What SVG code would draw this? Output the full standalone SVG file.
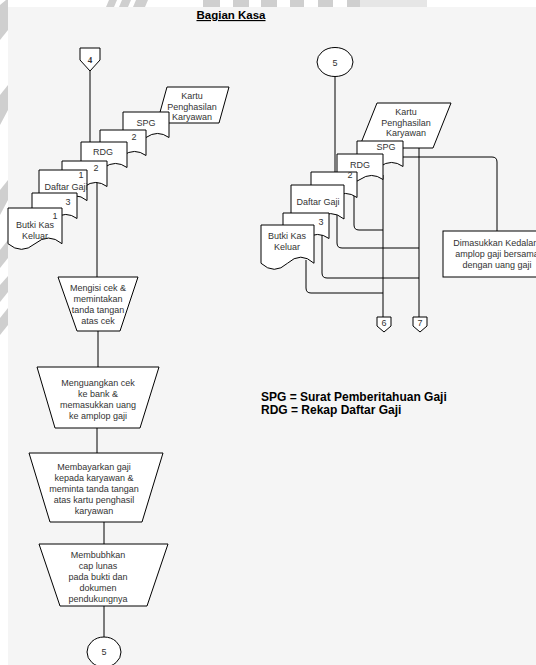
<svg xmlns="http://www.w3.org/2000/svg" width="536" height="665" viewBox="0 0 536 665">
<style>
.sh{fill:#fff;stroke:#000;stroke-width:1}
.ln{fill:none;stroke:#000;stroke-width:1}
.t{font-family:"Liberation Sans",Arial,sans-serif;font-size:9px;fill:#333;text-anchor:middle}
.wm{fill:#cfcfcf}
.lg{font-family:"Liberation Sans",Arial,sans-serif;font-size:12px;font-weight:bold;fill:#000}
</style>
<rect x="0" y="0" width="536" height="665" fill="#fff"/>
<rect x="8" y="7" width="528" height="658" fill="#f5f5f5"/>
<g id="watermark">
<polygon class="wm" points="109,0 117,0 114,7 106,7"/>
<polygon class="wm" points="122,0 131,0 128,7 119,7"/>
<polygon class="wm" points="136,0 148,0 145,7 133,7"/>
<rect class="wm" x="203" y="0" width="17" height="7"/>
<rect class="wm" x="233" y="0" width="16" height="7"/>
<rect class="wm" x="261" y="0" width="16" height="7"/>
<rect class="wm" x="290" y="0" width="14" height="7"/>
<rect class="wm" x="318" y="0" width="15" height="7"/>
<rect class="wm" x="347" y="0" width="13" height="7"/>
<rect x="360" y="0" width="67" height="7" fill="#e6e6e6"/>
<polygon class="wm" points="0,5 6,0 8,0 8,30 0,40"/>
<polygon class="wm" points="0,95 8,85 8,110 0,125"/>
<polygon class="wm" points="0,190 8,180 8,200 0,215"/>
<polygon class="wm" points="0,250 8,240 8,258 0,268"/>
<polygon class="wm" points="0,285 8,276 8,292 0,302"/>
<polygon class="wm" points="0,318 8,308 8,325 0,335"/>
</g>
<text x="231" y="19" font-family="Liberation Sans,Arial,sans-serif" font-size="11.5" font-weight="bold" text-anchor="middle" text-decoration="underline" fill="#000">Bagian Kasa</text>
<g id="connectors">
<path class="ln" d="M90,71V142"/>
<path class="ln" d="M97,150V277"/>
<path class="ln" d="M98,331V367"/>
<path class="ln" d="M97,428V453"/>
<path class="ln" d="M104,522V544"/>
<path class="ln" d="M104,606V637"/>
<path class="ln" d="M335,77V172"/>
<path class="ln" d="M354,185V225Q354,230 359,230H383"/>
<path class="ln" d="M337,215V243Q337,248 342,248H419"/>
<path class="ln" d="M322,235V273Q322,278 327,278H419"/>
<path class="ln" d="M306,260V288Q306,293 311,293H383"/>
<path class="ln" d="M383,175V317"/>
<path class="ln" d="M419,148V317"/>
<path class="ln" d="M403,157H492Q497,157 497,162V231"/>
</g>
<g id="off4"><polygon class="sh" points="80,48 100,48 100,60 90,71 80,60"/><text x="90" y="63" font-family="Liberation Serif,serif" font-size="9" font-weight="bold" text-anchor="middle" fill="#333">4</text></g>
<g id="kartuL"><polygon class="sh" points="167,87 229,87 219,123 157,123"/><text class="t" x="192" y="99">Kartu</text><text class="t" x="192" y="110">Penghasilan</text><text class="t" x="192" y="120">Karyawan</text></g>
<g id="spgL"><path class="sh" d="M123,112H169V137.5Q157.5,129.4 146,137.5Q134.5,145.6 123,137.5Z"/><text class="t" x="146" y="126">SPG</text></g>
<g id="spg2L"><path class="sh" d="M100,130H146V155.5Q134.5,147.4 123,155.5Q111.5,163.6 100,155.5Z"/><text class="t" x="134" y="140">2</text></g>
<g id="rdgL"><path class="sh" d="M81,142H127V167.5Q115.5,159.4 104,167.5Q92.5,175.6 81,167.5Z"/><text class="t" x="103" y="155">RDG</text></g>
<g id="rdg2L"><path class="sh" d="M62,161H107V186.5Q95.75,178.4 84.5,186.5Q73.25,194.6 62,186.5Z"/><text class="t" x="96" y="171">2</text></g>
<g id="dgL"><path class="sh" d="M39,170H87V200.6Q75,190.9 63,200.6Q51,210.3 39,200.6Z"/><text class="t" x="81" y="178">1</text><text class="t" x="66" y="190">Daftar Gaji</text></g>
<g id="dg3L"><path class="sh" d="M32,193H77V218.5Q65.75,210.4 54.5,218.5Q43.25,226.6 32,218.5Z"/><text class="t" x="68" y="205">3</text></g>
<g id="bkkL"><path class="sh" d="M8,208H62V243.7Q48.5,232.4 35,243.7Q21.5,255 8,243.7Z"/><text class="t" x="55" y="219">1</text><text class="t" x="35" y="228">Butki Kas</text><text class="t" x="35" y="239">Keluar</text></g>
<g id="p1"><polygon class="sh" points="58,277 138,277 120,331 77,331"/><text class="t" x="98" y="291">Mengisi cek &amp;</text><text class="t" x="98" y="302">memintakan</text><text class="t" x="98" y="313">tanda tangan</text><text class="t" x="98" y="324">atas cek</text></g>
<g id="p2"><polygon class="sh" points="37,367 159,367 140,428 55,428"/><text class="t" x="98" y="386">Menguangkan cek</text><text class="t" x="98" y="397">ke bank &amp;</text><text class="t" x="98" y="408">memasukkan uang</text><text class="t" x="98" y="419">ke amplop gaji</text></g>
<g id="p3"><polygon class="sh" points="29,453 163,453 142,522 50,522"/><text class="t" x="94" y="470">Membayarkan gaji</text><text class="t" x="94" y="481">kepada karyawan &amp;</text><text class="t" x="94" y="492">meminta tanda tangan</text><text class="t" x="94" y="503">atas kartu penghasil</text><text class="t" x="94" y="514">karyawan</text></g>
<g id="p4"><polygon class="sh" points="39,544 168,544 147,606 60,606"/><text class="t" x="98" y="558">Membubhkan</text><text class="t" x="98" y="569">cap lunas</text><text class="t" x="98" y="580">pada bukti dan</text><text class="t" x="98" y="591">dokumen</text><text class="t" x="98" y="602">pendukungnya</text></g>
<g id="c5bottom"><ellipse class="sh" cx="104" cy="652" rx="17" ry="15"/><text class="t" x="104" y="655">5</text></g>
<g id="c5top"><ellipse class="sh" cx="335" cy="62" rx="18" ry="14.5"/><text class="t" x="335" y="66">5</text></g>
<g id="kartuR"><polygon class="sh" points="377,103 451,103 433,148 359,148"/><text class="t" x="406" y="115">Kartu</text><text class="t" x="406" y="126">Penghasilan</text><text class="t" x="406" y="136">Karyawan</text></g>
<g id="spgR"><path class="sh" d="M357,141H403V166.5Q391.5,158.4 380,166.5Q368.5,174.6 357,166.5Z"/><text class="t" x="386" y="150">SPG</text></g>
<g id="rdgR"><path class="sh" d="M337,154H383V179.5Q371.5,171.4 360,179.5Q348.5,187.6 337,179.5Z"/><text class="t" x="360" y="168">RDG</text></g>
<g id="rdg2R"><path class="sh" d="M311,172H357V197.5Q345.5,189.4 334,197.5Q322.5,205.6 311,197.5Z"/><text class="t" x="350" y="178">2</text></g>
<g id="dgR"><path class="sh" d="M291,185H344V219Q330.75,208.2 317.5,219Q304.25,229.8 291,219Z"/><text class="t" x="318" y="205">Daftar Gaji</text></g>
<g id="dg3R"><path class="sh" d="M283,213H329V238.5Q317.5,230.4 306,238.5Q294.5,246.6 283,238.5Z"/><text class="t" x="321" y="225">3</text></g>
<g id="bkkR"><path class="sh" d="M261,225H314V263.25Q300.75,251.1 287.5,263.25Q274.25,275.4 261,263.25Z"/><text class="t" x="287" y="239">Butki Kas</text><text class="t" x="287" y="250">Keluar</text></g>
<g id="box"><rect class="sh" x="443" y="231" width="108" height="46"/><text class="t" x="497" y="246">Dimasukkan Kedalam</text><text class="t" x="497" y="257">amplop gaji bersama</text><text class="t" x="497" y="268">dengan uang gaji</text></g>
<g id="off6"><polygon class="sh" points="377,317 391,317 391,326 384,332 377,326"/><text class="t" x="384" y="326">6</text></g>
<g id="off7"><polygon class="sh" points="413,317 427,317 427,326 420,332 413,326"/><text class="t" x="420" y="326">7</text></g>
<g id="legend"><text class="lg" x="261" y="401">SPG = Surat Pemberitahuan Gaji</text><text class="lg" x="261" y="414">RDG = Rekap Daftar Gaji</text></g>
</svg>
